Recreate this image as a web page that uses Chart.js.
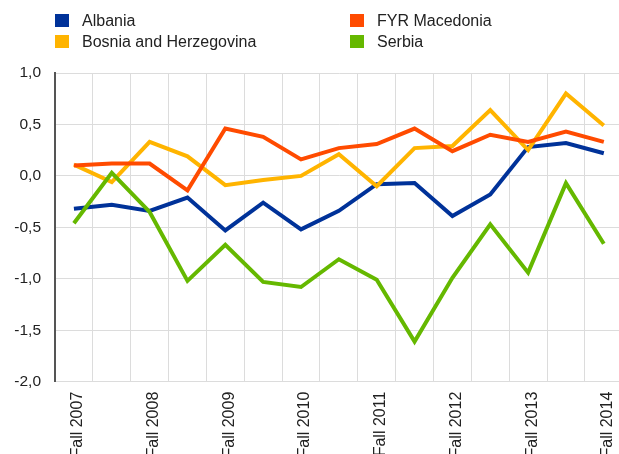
<!DOCTYPE html>
<html>
<head>
<meta charset="utf-8">
<script src="https://cdn.jsdelivr.net/npm/chart.js@4"></script>
<style>
    html, body { margin: 0; padding: 0; background: #fff; overflow: hidden; width: 619px; height: 454px; }
    #wrap { position: relative; width: 619px; height: 454px; overflow: hidden; }
    #chart { position: absolute; left: 0; top: 0; }
    .legend { position: absolute; left: 0; top: 0; font-family: 'Liberation Sans', Arial, sans-serif; font-size: 16px; color: #222; }
    .legend-item { position: absolute; white-space: nowrap; line-height: 18px; }
    .legend-item .box { position: absolute; left: 0; top: 2px; width: 14px; height: 13px; }
    .legend-item .txt { position: absolute; left: 27px; top: 0; }
</style>
</head>
<body>
<div id="wrap">
    <canvas id="chart" width="633" height="460"></canvas>
    <div class="legend" id="legend"></div>
</div>
<script>
const categories = [
    'Fall 2007', 'Spring 2008', 'Fall 2008', 'Spring 2009', 'Fall 2009',
    'Spring 2010', 'Fall 2010', 'Spring 2011', 'Fall 2011', 'Spring 2012',
    'Fall 2012', 'Spring 2013', 'Fall 2013', 'Spring 2014', 'Fall 2014'
];

const albania   = [-0.32, -0.28, -0.34, -0.21, -0.53, -0.26, -0.52, -0.34, -0.08, -0.07, -0.39, -0.18, 0.28, 0.32, 0.22];
const bosnia    = [0.11, -0.06, 0.33, 0.19, -0.09, -0.04, 0.00, 0.21, -0.10, 0.27, 0.29, 0.64, 0.25, 0.80, 0.49];
const macedonia = [0.10, 0.12, 0.12, -0.14, 0.46, 0.38, 0.16, 0.27, 0.31, 0.46, 0.24, 0.40, 0.33, 0.43, 0.33];
const serbia    = [-0.46, 0.03, -0.35, -1.02, -0.67, -1.03, -1.08, -0.81, -1.01, -1.61, -0.99, -0.47, -0.94, -0.07, -0.66];

const yTicks = [-2.0, -1.5, -1.0, -0.5, 0.0, 0.5, 1.0];

const series = [
    { label: 'Albania', data: albania, color: '#003299', legend: { x: 55, y: 12 } },
    { label: 'FYR Macedonia', data: macedonia, color: '#FF4B00', legend: { x: 350, y: 12 } },
    { label: 'Bosnia and Herzegovina', data: bosnia, color: '#FFB400', legend: { x: 55, y: 33 } },
    { label: 'Serbia', data: serbia, color: '#65B800', legend: { x: 350, y: 33 } }
];

// html legend, 2 x 2 grid like the original
const legendEl = document.getElementById('legend');
legendEl.innerHTML = series.map(s => `
    <div class="legend-item" style="left:${s.legend.x}px; top:${s.legend.y}px;">
        <span class="box" style="background:${s.color}"></span>
        <span class="txt">${s.label}</span>
    </div>`).join('');

const FONT = "'Liberation Sans', Arial, sans-serif";

new Chart(document.getElementById('chart').getContext('2d'), {
    type: 'line',
    data: {
        labels: categories,
        datasets: series.map((s, i) => ({
            label: s.label,
            data: s.data,
            borderColor: s.color,
            backgroundColor: s.color,
            borderWidth: 4,
            pointRadius: 0,
            tension: 0,
            fill: false,
            order: [3, 1, 2, 0][i]
        }))
    },
    options: {
        responsive: false,
        animation: false,
        layout: { padding: { top: 73, right: 0, left: 0, bottom: 0 } },
        plugins: {
            legend: { display: false },
            tooltip: { enabled: false }
        },
        scales: {
            x: {
                offset: true,
                grid: { offset: true, color: '#dcdcdc', lineWidth: 1, drawTicks: false },
                border: { color: '#dcdcdc', width: 1 },
                ticks: {
                    autoSkip: false,
                    minRotation: 90,
                    maxRotation: 90,
                    padding: 10,
                    labelOffset: 4,
                    color: '#222',
                    font: { family: FONT, size: 16 },
                    callback: function(val, idx) {
                        return idx % 2 === 0 ? categories[idx] : '';
                    }
                },
                afterFit: function(scale) { scale.height = 460 - 381.7; }
            },
            y: {
                min: -2,
                max: 1,
                afterBuildTicks: function(scale) {
                    scale.ticks = yTicks.map(v => ({ value: v }));
                },
                grid: { color: '#dcdcdc', lineWidth: 1, drawTicks: false },
                border: { color: '#555', width: 2 },
                ticks: {
                    padding: 14,
                    color: '#222',
                    font: { family: FONT, size: 15.5 },
                    callback: function(v) { return v.toFixed(1).replace('.', ','); }
                },
                afterFit: function(scale) { scale.width = 55; }
            }
        }
    }
});
</script>
</body>
</html>
